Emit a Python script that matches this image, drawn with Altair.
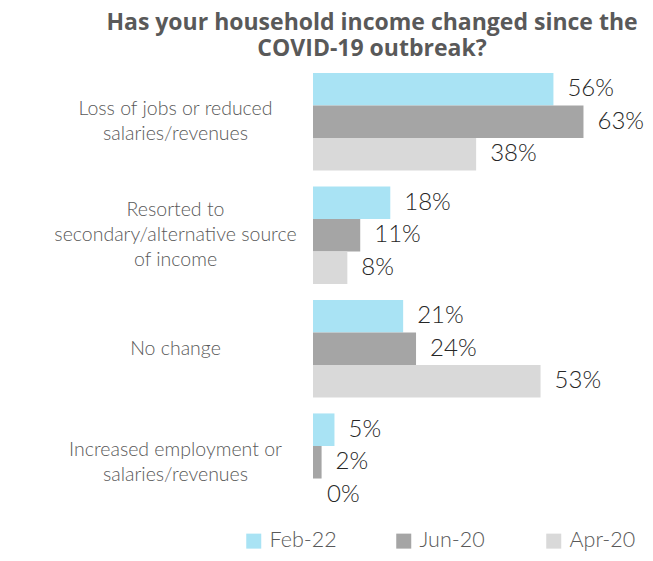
import altair as alt
import pandas as pd

categories = [
    "Loss of jobs or reduced\nsalaries/revenues",
    "Resorted to\nsecondary/alternative source\nof income",
    "No change",
    "Increased employment or\nsalaries/revenues",
]
series = ["Feb-22", "Jun-20", "Apr-20"]
feb22 = [56, 18, 21, 5]
jun20 = [63, 11, 24, 2]
apr20 = [38, 8, 53, 0]
colors = ["#A9E3F4", "#A5A5A5", "#D9D9D9"]

rows = []
for s, vals in zip(series, [feb22, jun20, apr20]):
    for c, v in zip(categories, vals):
        rows.append({"category": c, "series": s, "value": v, "label": f"{v}%"})
df = pd.DataFrame(rows)

FONT = "Lato"

base = alt.Chart(df).encode(
    y=alt.Y(
        "category:N",
        sort=categories,
        title=None,
        scale=alt.Scale(paddingInner=0.14, paddingOuter=0.07),
        axis=alt.Axis(
            domain=False,
            ticks=False,
            labelAlign="center",
            labelBaseline="middle",
            labelPadding=138,
            labelLimit=0,
            labelFont=FONT,
            labelFontWeight=300,
            labelFontSize=19.5,
            labelLineHeight=25,
            labelColor="#595959",
            labelExpr="split(datum.label, '\\n')",
            labelOffset={
                "condition": [
                    {"test": "indexof(datum.value, 'secondary') >= 0", "value": -25},
                    {"test": "datum.value == 'No change'", "value": 0},
                ],
                "value": -12.5,
            },
        ),
    ),
    yOffset=alt.YOffset("series:N", sort=series),
)

bars = base.mark_bar().encode(
    x=alt.X("value:Q", scale=alt.Scale(domain=[0, 75], nice=False), axis=None),
    color=alt.Color(
        "series:N",
        sort=series,
        scale=alt.Scale(domain=series, range=colors),
        legend=alt.Legend(
            title=None,
            orient="none",
            direction="horizontal",
            legendX=-70,
            legendY=465,
            symbolType="square",
            symbolSize=225,
            symbolStrokeWidth=0,
            labelFont=FONT,
            labelFontWeight=300,
            labelFontSize=21.5,
            labelColor="#595959",
            gridAlign="all",
            columnPadding=56,
            labelOffset=5,
        ),
    ),
)

texts = base.mark_text(
    align="left", baseline="middle", dx=14, font=FONT, fontWeight=300,
    fontSize=24, color="#262626",
).encode(
    x=alt.X("value:Q"),
    text="label:N",
)

chart = (
    alt.layer(bars, texts)
    .properties(
        width=322,
        height=454,
        padding={"left": 305, "top": 57, "right": 10, "bottom": 34},
        autosize=alt.AutoSizeParams(type="none"),
        title=alt.Title(
            ["Has your household income changed since the", "COVID-19 outbreak?"],
            font="Open Sans",
            fontSize=23,
            fontWeight="bold",
            color="#595959",
            anchor="middle",
            frame="group",
            dx=-102,
            offset=4,
            lineHeight=26,
        ),
    )
    .configure_view(stroke=None)
)

chart.save("out.html", embed_options={"renderer": "svg", "actions": False})
